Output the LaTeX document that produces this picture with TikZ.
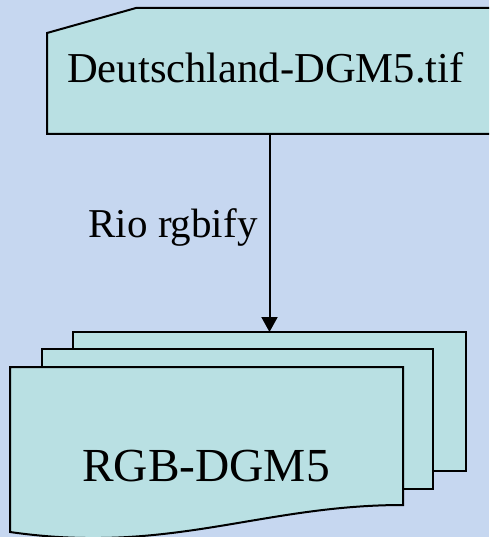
\documentclass[tikz,border=0pt]{standalone}
\usepackage{fontspec}
\setmainfont{Liberation Serif}
\usetikzlibrary{arrows.meta}
\definecolor{bgc}{RGB}{198,215,240}
\definecolor{boxc}{RGB}{185,224,227}
\begin{document}
\begin{tikzpicture}[x=1pt,y=-1pt,
  shapeline/.style={draw=black, line width=2pt, fill=boxc, line join=miter},
  doclayer/.style={shapeline, rectangle, inner sep=0pt, outer sep=0pt, anchor=north west},
  txt/.style={inner sep=0pt, anchor=base west},
  conn/.style={-{Triangle[width=16pt,length=15pt]}, line width=2pt}]
\useasboundingbox (0,0) rectangle (489,537);
\fill[bgc] (0,0) rectangle (489,537);
\clip (0,0) rectangle (489,537);
% source: manual input shape
\filldraw[shapeline] (47,33) -- (136,8) -- (495,8) -- (495,134) -- (47,134) -- cycle;
\node[txt, font=\fontsize{42.6}{50}\selectfont] (srctext) at (67,83) {Deutschland-DGM5.tif};
\coordinate (src) at (269.5,134);
% stacked documents
\node[doclayer, minimum width=393pt, minimum height=139pt] (back) at (73,332) {};
\node[doclayer, minimum width=391pt, minimum height=140pt] (middle) at (42,349) {};
\filldraw[shapeline] (10,367) -- (403,367) -- (403,505)
  .. controls (260,505) and (170,555) .. (10,532) -- cycle;
\node[txt, font=\fontsize{47.4}{56}\selectfont] (dsttext) at (82,481) {RGB-DGM5};
% connector
\draw[conn] (src) -- node[pos=0.525, anchor=base east, inner sep=0pt, xshift=-11pt, font=\fontsize{41}{49}\selectfont] (lbl) {Rio rgbify} (back.north);
\end{tikzpicture}
\end{document}
